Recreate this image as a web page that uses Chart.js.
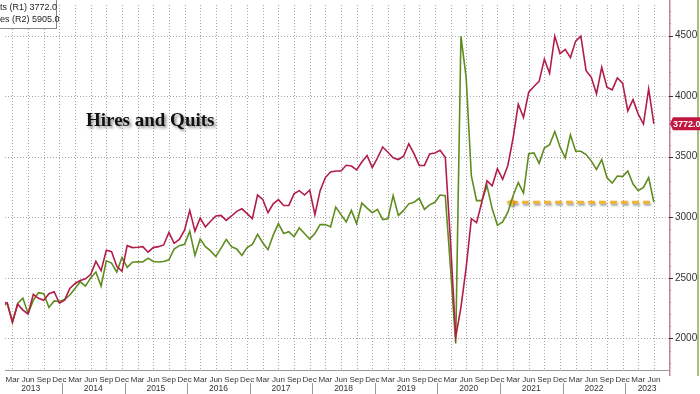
<!DOCTYPE html>
<html>
<head>
<meta charset="utf-8">
<title>Hires and Quits</title>
<script src="https://cdn.jsdelivr.net/npm/chart.js@4"></script>
<style>
  html, body { margin: 0; padding: 0; background: #fff; }
  #wrap { width: 700px; height: 394px; position: relative; }
</style>
</head>
<body>
<div id="wrap"><canvas id="my-chart"></canvas></div>
<script>
'use strict';

// DATA (monthly, Jan 2013 .. Jun 2023, thousands)

let startYear = 2013;
let monthNames = ['Mar', 'Jun', 'Sep', 'Dec'];

let quits = [
  2302, 2291, 2134, 2283, 2234, 2202, 2365, 2332, 2316, 2370, 2386, 2291,
  2316, 2413, 2454, 2479, 2492, 2527, 2636, 2560, 2728, 2717, 2595, 2555,
  2766, 2750, 2753, 2758, 2712, 2750, 2758, 2772, 2875, 2785, 2818, 2894,
  3057, 2886, 2994, 2921, 2967, 3011, 3016, 2975, 3011, 3049, 3070, 3030,
  2989, 3184, 3148, 3038, 3111, 3146, 3098, 3098, 3193, 3220, 3184, 3225,
  3022, 3220, 3328, 3374, 3382, 3382, 3429, 3423, 3391, 3456, 3510, 3410,
  3491, 3580, 3537, 3491, 3477, 3504, 3607, 3526, 3428, 3428, 3523, 3531,
  3553, 3496, 2799, 2012, 2256, 2582, 2989, 2956, 3124, 3301, 3260, 3401,
  3314, 3428, 3654, 3933, 3824, 4033, 4079, 4123, 4305, 4188, 4495, 4351,
  4386, 4318, 4454, 4495, 4210, 4155, 4020, 4237, 4074, 4052, 4150, 4107,
  3879, 3971, 3852, 3770, 4060, 3772
];

let hires = [
  4429, 4494, 4222, 4485, 4559, 4346, 4531, 4637, 4623, 4429, 4521, 4513,
  4540, 4604, 4696, 4790, 4729, 4844, 4927, 4729, 5084, 5052, 4927, 5131,
  4992, 5065, 5070, 5067, 5121, 5075, 5067, 5075, 5099, 5250, 5296, 5315,
  5500, 5159, 5390, 5283, 5223, 5145, 5261, 5385, 5283, 5250, 5159, 5269,
  5315, 5455, 5337, 5240, 5444, 5606, 5468, 5492, 5422, 5546, 5468, 5390,
  5468, 5592, 5592, 5560, 5837, 5732, 5630, 5791, 5606, 5893, 5823, 5759,
  5805, 5662, 5675, 5998, 5721, 5791, 5883, 5905, 5961, 5805, 5869, 5905,
  6007, 5998, 4984, 3923, 8234, 7658, 6274, 5929, 5929, 6136, 5813, 5582,
  5630, 5767, 5998, 6182, 6034, 6588, 6597, 6451, 6667, 6713, 6898, 6680,
  6529, 6852, 6621, 6621, 6575, 6483, 6367, 6505, 6252, 6174, 6274, 6265,
  6344, 6160, 6067, 6114, 6252, 5905
];

let yTicks = [2000, 2500, 3000, 3500, 4000, 4500];
let lastQuits = 3772.0;
let lastHires = 5905.0;

// hires were last at the latest level around Feb 2021 (month index)
let arrowFrom = 97.6;
let arrowTo = 125;

// COLORS

let red = '#b21d48';
let green = '#5f8c1f';
let amber = '#f5b335';
let gridGray = '#a6a6a6';

let labelFont = '"Liberation Sans", Arial, sans-serif';

// HELPERS

let monthIdx = quits.map((q, i) => i);

let extras = {
  id: 'extras',
  beforeDraw(chart) {
    let c = chart.ctx;
    c.save();
    c.fillStyle = '#fff';
    c.fillRect(0, 0, chart.width, chart.height);
    c.restore();
  },
  beforeDatasetsDraw(chart) {
    // dotted grid, taken from the scales' own ticks
    let c = chart.ctx;
    let xs = chart.scales.x;
    let ys = chart.scales.y;
    let area = chart.chartArea;
    c.save();
    c.strokeStyle = gridGray;
    c.lineWidth = 1;
    c.setLineDash([1, 2]);
    xs.ticks.forEach((t) => {
      let px = Math.round(xs.getPixelForValue(t.value)) + 0.5;
      c.beginPath();
      c.moveTo(px, area.top);
      c.lineTo(px, area.bottom);
      c.stroke();
    });
    ys.ticks.forEach((t) => {
      let py = Math.round(ys.getPixelForValue(t.value)) + 0.5;
      c.beginPath();
      c.moveTo(area.left, py);
      c.lineTo(area.right, py);
      c.stroke();
    });
    c.restore();
  },
  beforeDatasetDraw(chart, args) {
    if (args.index === 2) {
      let c = chart.ctx;
      c.save();
      c.shadowColor = 'rgba(0,0,0,0.35)';
      c.shadowBlur = 2;
      c.shadowOffsetX = 1;
      c.shadowOffsetY = 2;
    }
  },
  afterDatasetDraw(chart, args) {
    if (args.index === 2) {
      chart.ctx.restore();
    }
  },
  afterDraw(chart) {
    let c = chart.ctx;
    let xs = chart.scales.x;
    let ys = chart.scales.y;
    let area = chart.chartArea;

    c.save();

    // right axis: line, major and minor ticks
    c.strokeStyle = '#c5839a';
    c.lineWidth = 1.5;
    c.beginPath();
    c.moveTo(area.right + 0.75, 0);
    c.lineTo(area.right + 0.75, area.bottom + 6);
    c.stroke();
    c.lineWidth = 1;
    for (let v = 1800; v <= 4700; v += 100) {
      let py = Math.round(ys.getPixelForValue(v)) + 0.5;
      let major = yTicks.includes(v);
      c.strokeStyle = major ? '#333' : '#c77d96';
      c.beginPath();
      c.moveTo(area.right, py);
      c.lineTo(area.right + (major ? 4 : 2), py);
      c.stroke();
    }

    // edge of the hidden R2 axis
    c.fillStyle = '#a9c07a';
    c.fillRect(697, 0, 2, area.bottom + 6);

    // year labels and separators
    c.font = '8.5px ' + labelFont;
    c.fillStyle = '#333';
    c.textAlign = 'center';
    c.textBaseline = 'middle';
    let lastYear = startYear + Math.floor((quits.length - 1) / 12);
    for (let yr = startYear; yr <= lastYear; yr++) {
      let s = (yr - startYear) * 12 - 0.5;
      let mid = s + 6;
      if (yr === lastYear) mid = (s + xs.max) / 2;
      c.fillText(String(yr), xs.getPixelForValue(mid), 389);
      if (yr > startYear) {
        let px = Math.round(xs.getPixelForValue(s)) + 0.5;
        c.strokeStyle = '#999';
        c.beginPath();
        c.moveTo(px, 383);
        c.lineTo(px, 394);
        c.stroke();
      }
    }

    // last value tag for quits
    let ty = ys.getPixelForValue(lastQuits);
    c.fillStyle = '#c0173f';
    c.beginPath();
    c.moveTo(area.right + 1, ty);
    c.lineTo(area.right + 4, ty - 6.5);
    c.lineTo(700, ty - 6.5);
    c.lineTo(700, ty + 6.5);
    c.lineTo(area.right + 4, ty + 6.5);
    c.closePath();
    c.fill();
    c.fillStyle = '#fff';
    c.font = 'bold 9px "Liberation Sans", Arial, sans-serif';
    c.textAlign = 'left';
    c.fillText(lastQuits.toFixed(1), area.right + 4, ty + 0.5);

    // title
    c.save();
    c.shadowColor = 'rgba(0,0,0,0.45)';
    c.shadowBlur = 3;
    c.shadowOffsetX = 2;
    c.shadowOffsetY = 2;
    c.fillStyle = '#111';
    c.font = 'bold 19px "Liberation Serif", "Times New Roman", serif';
    c.textAlign = 'left';
    c.textBaseline = 'alphabetic';
    c.fillText('Hires and Quits', 86, 126);
    c.restore();

    // legend box (cut at the left edge)
    c.fillStyle = '#fff';
    c.fillRect(-2, -2, 59, 31);
    c.strokeStyle = '#8a8a8a';
    c.lineWidth = 1;
    c.strokeRect(-2.5, -2.5, 59, 31);
    c.fillStyle = '#222';
    c.font = '9px "Liberation Sans", Arial, sans-serif';
    c.textAlign = 'left';
    c.textBaseline = 'middle';
    c.fillText('Quits (R1) ' + lastQuits.toFixed(1), -14, 8);
    c.fillText('Hires (R2) ' + lastHires.toFixed(1), -11.5, 20);

    c.restore();
  }
};

// CHART

let ctx = document.getElementById('my-chart').getContext('2d');

let chartObj = {
  type: 'line',
  data: {
    labels: monthIdx,
    datasets: [{
      label: 'Quits (R1)',
      data: quits,
      borderColor: red,
      borderWidth: 1.6,
      pointRadius: 0,
      tension: 0,
      yAxisID: 'y'
    },
    {
      label: 'Hires (R2)',
      data: hires,
      borderColor: green,
      borderWidth: 1.6,
      pointRadius: 0,
      tension: 0,
      yAxisID: 'y2'
    },
    {
      label: 'level',
      data: [{ x: arrowFrom, y: lastHires }, { x: arrowTo, y: lastHires }],
      borderColor: amber,
      borderWidth: 3,
      borderDash: [7, 4],
      pointRadius: [5, 0],
      pointStyle: 'triangle',
      rotation: -90,
      pointBackgroundColor: amber,
      pointBorderWidth: 0,
      yAxisID: 'y2'
    }]
  },
  options: {
    responsive: true,
    maintainAspectRatio: false,
    animation: false,
    devicePixelRatio: 1,
    layout: { padding: 0 },
    plugins: {
      legend: { display: false },
      tooltip: { enabled: false }
    },
    scales: {
      x: {
        type: 'linear',
        min: 0.57,
        max: 127.9,
        afterBuildTicks: (scale) => {
          let t = [];
          for (let m = 2; m <= scale.max; m += 3) {
            t.push({ value: m });
          }
          scale.ticks = t;
        },
        afterFit: (scale) => {
          scale.height = 24;
          scale.paddingLeft = 0;
          scale.paddingRight = 0;
        },
        ticks: {
          autoSkip: false,
          maxRotation: 0,
          padding: 5,
          color: '#333',
          font: { size: 8, family: labelFont },
          callback: (v) => monthNames[Math.round((v - 2) / 3) % 4]
        },
        grid: { drawOnChartArea: false, drawTicks: false },
        border: { display: true, color: '#999', width: 1 }
      },
      y: {
        position: 'right',
        min: 1740,
        max: 4752,
        afterBuildTicks: (scale) => {
          scale.ticks = yTicks.map(v => ({ value: v }));
        },
        afterFit: (scale) => {
          scale.width = 31;
          scale.paddingTop = 0;
          scale.paddingBottom = 0;
        },
        ticks: {
          padding: 6,
          color: '#333',
          font: { size: 10, family: labelFont },
          callback: (v) => String(v)
        },
        grid: { drawOnChartArea: false, drawTicks: false },
        border: { display: false }
      },
      y2: {
        display: false,
        min: 3552,
        max: 8673
      }
    }
  },
  plugins: [extras]
};

new Chart(ctx, chartObj);
</script>
</body>
</html>
